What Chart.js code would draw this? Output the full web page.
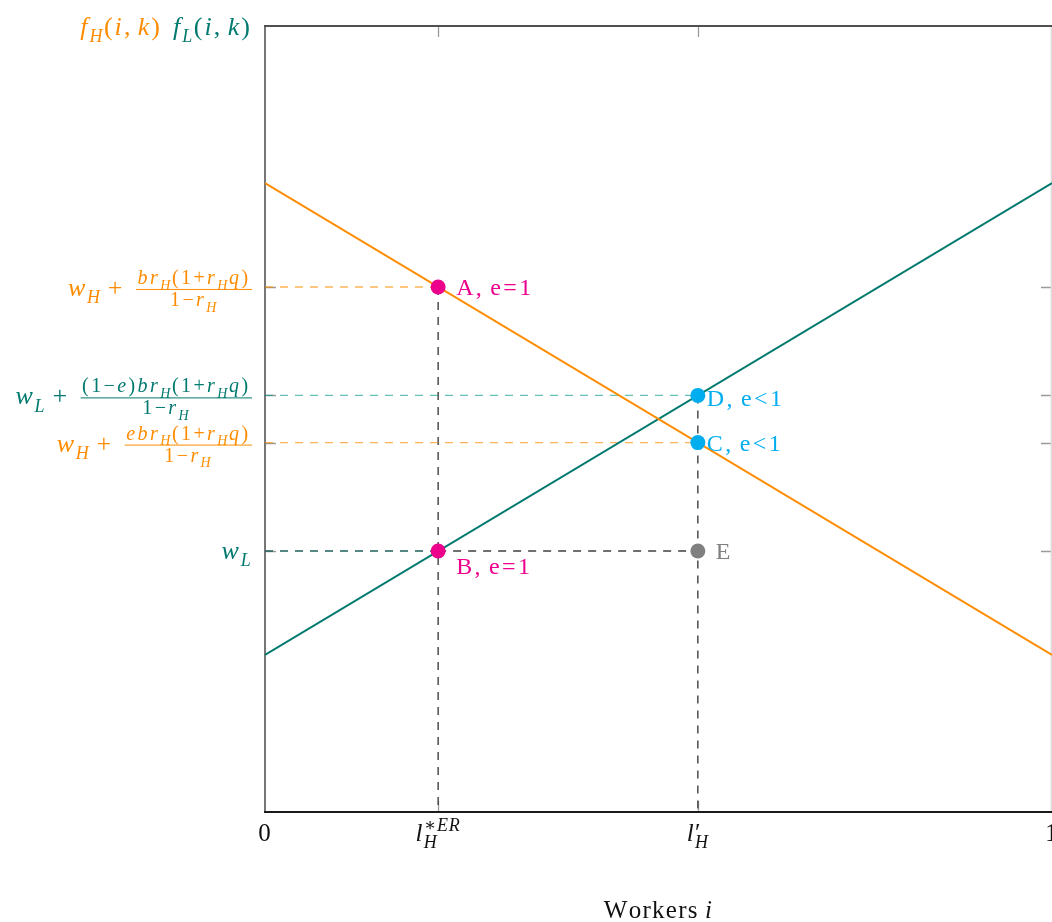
<!DOCTYPE html>
<html>
<head>
<meta charset="utf-8">
<script src="https://cdn.jsdelivr.net/npm/chart.js@4.4.1/dist/chart.umd.min.js"></script>
<style>
  html, body { margin: 0; background: #fff; }
  canvas { display: block; }
</style>
</head>
<body>
<canvas id="grafico" width="1052" height="922"></canvas>
<script>
// curvas de produtividade dos dois setores (x = trabalhador i, de 0 a 1)
const workersX = [0, 1];
const fHValues = [0.8, 0.2];
const fLValues = [0.2, 0.8];

// limiares de trabalhadores
const lHER = 0.22;
const lHPrime = 0.55;

// pontos A..E
const pointNames = ['A', 'B', 'C', 'D', 'E'];
const pointX = [lHER, lHER, lHPrime, lHPrime, lHPrime];
const pointY = [0.668, 0.332, 0.47, 0.53, 0.332];
const pointLabels = ['A, e=1', 'B, e=1', 'C, e<1', 'D, e<1', 'E'];

// rótulos do eixo x
const xTickValues = [0, lHER, lHPrime, 1];
const xTickLabels = ['0', 'l_{H}^{*ER}', "l^{'}_{H}", '1'];

// rótulos do eixo y: cada um fica na altura de um ponto
const yTickPoint = ['A', 'D', 'C', 'B'];
const yLabelPre = ['w_{H} + \u2009', 'w_{L} + \u2009', 'w_{H} + \u2009', 'w_{L}'];
const yLabelNum = ['br_{H}(1+r_{H}q)', '(1-e)br_{H}(1+r_{H}q)', 'ebr_{H}(1+r_{H}q)', ''];
const yLabelDen = ['1-r_{H}', '1-r_{H}', '1-r_{H}', ''];

const axisTitleX = 'Workers ';
const axisTitleXVar = 'i';

// cores
const ORANGE = '#ff8c00';
const TEAL = '#00796f';
const MAGENTA = '#ec008c';
const CYAN = '#00aeef';
const GRAY = '#808080';
const ORANGE_SOFT = 'rgba(255,140,0,0.65)';
const TEAL_SOFT = 'rgba(0,150,136,0.6)';
const TEAL_DARK = '#1f625b';
const GUIDE = '#404040';

const pointColors = [MAGENTA, MAGENTA, CYAN, CYAN, GRAY];
const yLabelColors = [ORANGE, TEAL, ORANGE, TEAL];
const labelDx = [18, 18, 9, 9, 18];
const labelDy = [8, 23, 8, 11, 8];

const SERIF = '"Liberation Serif", "DejaVu Serif", serif';
const MAIN = 26;
const FRAC = 20;

const idx = n => pointNames.indexOf(n);
const pt = n => ({ x: pointX[idx(n)], y: pointY[idx(n)] });

// ---------- texto matemático simples (_ e ^) ----------
const SYM = { '-': '\u2212', "'": '\u2032', '*': '\u2217' };

function parseMath(src) {
  const out = [];
  let i = 0;
  while (i < src.length) {
    const c = src[i];
    if (c === '_' || c === '^') {
      i++;
      let grp;
      if (src[i] === '{') {
        const j = src.indexOf('}', i);
        grp = src.slice(i + 1, j);
        i = j + 1;
      } else {
        grp = src[i];
        i++;
      }
      out.push({ script: c === '_' ? 'sub' : 'sup', text: grp });
    } else {
      out.push({ text: c });
      i++;
    }
  }
  return out;
}

function layoutMath(ctx, src, size, roman, track) {
  track = track === undefined ? 0.07 : track;
  const items = [];
  let x = 0;
  const put = (text, s, dy, x0) => {
    let w = 0;
    for (const raw of text) {
      const ch = SYM[raw] || raw;
      const it = !roman && /[A-Za-z]/.test(raw);
      const font = (it ? 'italic ' : '') + s + 'px ' + SERIF;
      ctx.font = font;
      items.push({ ch, font, x: x0 + w, dy });
      w += ctx.measureText(ch).width + (/\s/.test(raw) ? 0 : track * s);
    }
    return w;
  };
  const toks = parseMath(src);
  for (let k = 0; k < toks.length; k++) {
    const tk = toks[k];
    if (!tk.script) { x += put(tk.text, size, 0, x); continue; }
    const scriptPut = t => {
      if (t.text === "'") return put("'", size, 0, x);
      const s = Math.round(size * 0.7);
      return put(t.text, s, t.script === 'sub' ? size * 0.28 : -size * 0.42, x);
    };
    let w = scriptPut(tk);
    const nx = toks[k + 1];
    if (nx && nx.script && nx.script !== tk.script) {
      w = Math.max(w, scriptPut(nx));
      k++;
    }
    x += w;
  }
  return { items, width: x };
}

function drawLayout(ctx, lay, x, y, color) {
  ctx.fillStyle = color;
  ctx.textAlign = 'left';
  ctx.textBaseline = 'alphabetic';
  for (const it of lay.items) {
    ctx.font = it.font;
    ctx.fillText(it.ch, x + it.x, y + it.dy);
  }
}

function drawYLabel(ctx, i, right, level) {
  const color = yLabelColors[i];
  const pre = layoutMath(ctx, yLabelPre[i], MAIN, false, 0.07);
  if (!yLabelNum[i]) {
    drawLayout(ctx, pre, right - pre.width, level + 8, color);
    return;
  }
  const num = layoutMath(ctx, yLabelNum[i], FRAC, false, 0.12);
  const den = layoutMath(ctx, yLabelDen[i], FRAC, false, 0.12);
  const fw = Math.max(num.width, den.width) + 3;
  const fx = right - fw;
  drawLayout(ctx, pre, fx - pre.width, level + 9, color);
  const bar = level + 2;
  ctx.strokeStyle = color;
  ctx.lineWidth = 1;
  ctx.beginPath();
  ctx.moveTo(fx, bar + 0.5);
  ctx.lineTo(right, bar + 0.5);
  ctx.stroke();
  drawLayout(ctx, num, fx + (fw - num.width) / 2, bar - 5, color);
  drawLayout(ctx, den, fx + (fw - den.width) / 2, bar + 17, color);
}

// ---------- moldura, marcas e rótulos ----------
const framePlugin = {
  id: 'moldura',
  beforeDatasetsDraw(chart) {
    const { ctx, chartArea: a, scales: { x, y } } = chart;
    ctx.save();
    ctx.lineWidth = 1.3;
    ctx.strokeStyle = '#9a9a9a';
    ctx.beginPath();
    for (const v of xTickValues.slice(1, -1)) {
      const px = Math.round(x.getPixelForValue(v)) + 0.5;
      ctx.moveTo(px, a.top); ctx.lineTo(px, a.top + 11);
      ctx.moveTo(px, a.bottom); ctx.lineTo(px, a.bottom - 11);
    }
    for (const n of yTickPoint) {
      const py = Math.round(y.getPixelForValue(pt(n).y)) + 0.5;
      ctx.moveTo(a.left, py); ctx.lineTo(a.left + 11, py);
      ctx.moveTo(a.right, py); ctx.lineTo(a.right - 11, py);
    }
    ctx.stroke();

    ctx.lineWidth = 1.8;
    ctx.strokeStyle = '#dddddd';
    ctx.beginPath(); ctx.moveTo(a.right - 0.5, a.top); ctx.lineTo(a.right - 0.5, a.bottom); ctx.stroke();
    ctx.strokeStyle = '#686868';
    ctx.beginPath(); ctx.moveTo(a.left, a.top); ctx.lineTo(a.left, a.bottom + 1); ctx.stroke();
    ctx.strokeStyle = '#505050';
    ctx.beginPath(); ctx.moveTo(a.left - 1, a.top); ctx.lineTo(a.right, a.top); ctx.stroke();
    ctx.strokeStyle = '#1a1a1a';
    ctx.beginPath(); ctx.moveTo(a.left - 1, a.bottom); ctx.lineTo(a.right, a.bottom); ctx.stroke();
    ctx.restore();
  },
  afterDraw(chart) {
    const { ctx, chartArea: a, scales: { x, y } } = chart;
    ctx.save();

    // rótulos dos pontos
    pointNames.forEach((n, i) => {
      const px = x.getPixelForValue(pointX[i]);
      const py = y.getPixelForValue(pointY[i]);
      const lay = layoutMath(ctx, pointLabels[i], 24, true, 0.1);
      drawLayout(ctx, lay, px + labelDx[i], py + labelDy[i], pointColors[i]);
    });

    // eixo x
    xTickValues.forEach((v, i) => {
      const lay = layoutMath(ctx, xTickLabels[i], 25, false, 0.05);
      drawLayout(ctx, lay, x.getPixelForValue(v) - lay.width / 2, a.bottom + 29, '#111');
    });
    const t1 = layoutMath(ctx, axisTitleX, 25, true, 0.05);
    const t2 = layoutMath(ctx, axisTitleXVar, 25, false, 0.05);
    const tx = (a.left + a.right) / 2 - (t1.width + t2.width) / 2;
    drawLayout(ctx, t1, tx, a.bottom + 106, '#111');
    drawLayout(ctx, t2, tx + t1.width, a.bottom + 106, '#111');

    // eixo y
    const right = a.left - 13;
    yTickPoint.forEach((n, i) => drawYLabel(ctx, i, right, y.getPixelForValue(pt(n).y)));
    const fL = layoutMath(ctx, 'f_{L}(i,\u2009k)', MAIN, false, 0.08);
    const fH = layoutMath(ctx, 'f_{H}(i,\u2009k)', MAIN, false, 0.08);
    drawLayout(ctx, fL, right - fL.width, a.top + 9, TEAL);
    drawLayout(ctx, fH, right - fL.width - 11 - fH.width, a.top + 9, ORANGE);
    ctx.restore();
  }
};

// ---------- conjuntos de dados ----------
const dashed = (data, color) => ({
  data, showLine: true, borderColor: color, borderWidth: 1.4,
  borderDash: [8, 7], pointRadius: 0
});

const A = pt('A'), B = pt('B'), C = pt('C'), D = pt('D'), E = pt('E');

const datasets = [
  {
    data: pointX.map((v, i) => ({ x: v, y: pointY[i] })),
    pointRadius: 7.5, pointHoverRadius: 7.5, pointBorderWidth: 0,
    pointBackgroundColor: pointColors, showLine: false
  },
  {
    data: workersX.map((v, i) => ({ x: v, y: fHValues[i] })),
    showLine: true, borderColor: ORANGE, borderWidth: 2, pointRadius: 0
  },
  {
    data: workersX.map((v, i) => ({ x: v, y: fLValues[i] })),
    showLine: true, borderColor: TEAL, borderWidth: 2, pointRadius: 0
  },
  dashed([{ x: 0, y: A.y }, A], ORANGE_SOFT),
  dashed([{ x: 0, y: D.y }, D], TEAL_SOFT),
  dashed([{ x: 0, y: C.y }, C], ORANGE_SOFT),
  dashed([{ x: 0, y: B.y }, B], TEAL_DARK),
  dashed([B, E], GUIDE),
  dashed([A, { x: A.x, y: 0 }], GUIDE),
  dashed([D, { x: D.x, y: 0 }], GUIDE)
];

new Chart(document.getElementById('grafico'), {
  type: 'scatter',
  data: { datasets },
  options: {
    responsive: false,
    animation: false,
    devicePixelRatio: 1,
    layout: { autoPadding: false, padding: { left: 265, top: 26, right: 0, bottom: 110 } },
    scales: {
      x: { type: 'linear', min: 0, max: 1, display: false },
      y: { type: 'linear', min: 0, max: 1, display: false }
    },
    plugins: { legend: { display: false }, tooltip: { enabled: false } }
  },
  plugins: [framePlugin]
});
</script>
</body>
</html>
